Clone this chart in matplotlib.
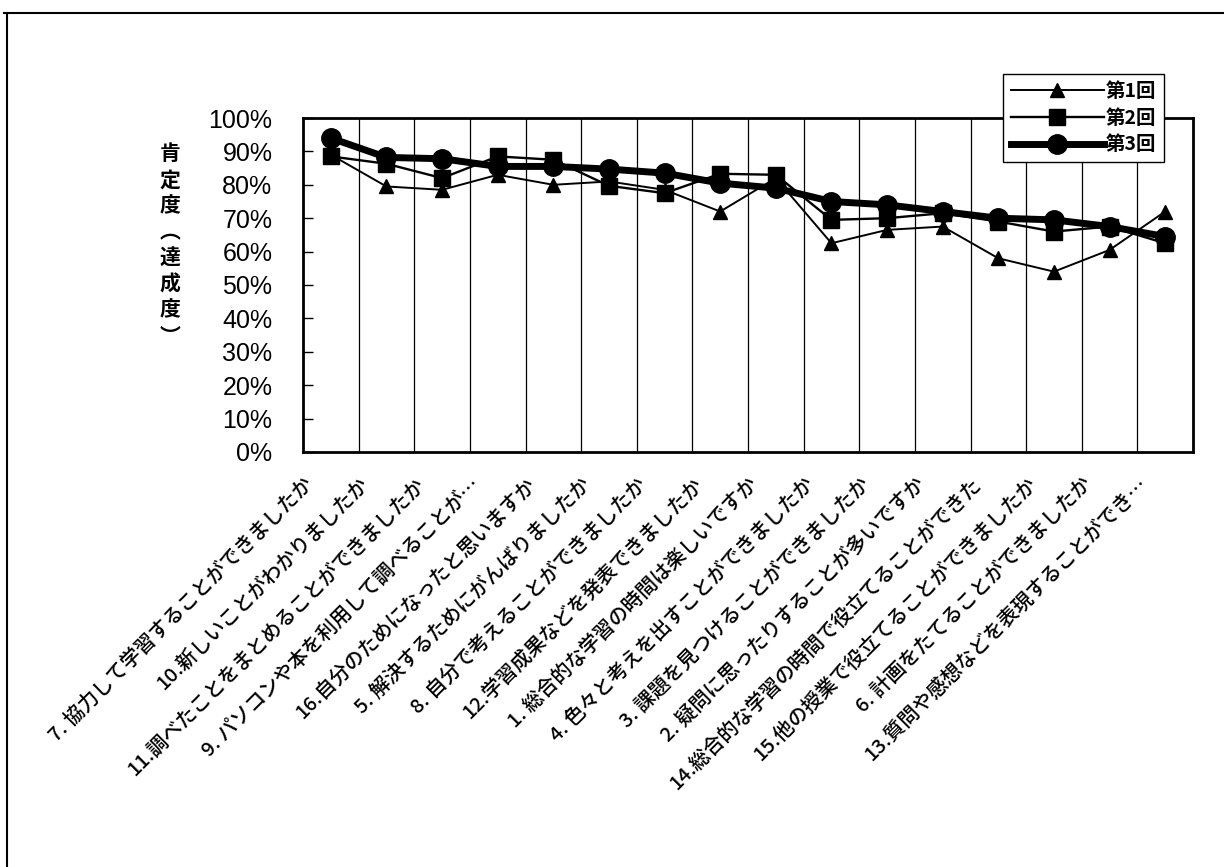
import numpy as np
import matplotlib
matplotlib.use("Agg")
import matplotlib.pyplot as plt
from matplotlib.lines import Line2D
from matplotlib.transforms import ScaledTranslation

plt.rcParams['font.family'] = ['Noto Sans CJK JP', 'DejaVu Sans']

# question labels (x axis)
labels = [
    "7. 協力して学習することができましたか",
    "10.新しいことがわかりましたか",
    "11.調べたことをまとめることができましたか",
    "9. パソコンや本を利用して調べることが…",
    "16.自分のためになったと思いますか",
    "5. 解決するためにがんばりましたか",
    "8. 自分で考えることができましたか",
    "12.学習成果などを発表できましたか",
    "1. 総合的な学習の時間は楽しいですか",
    "4. 色々と考えを出すことができましたか",
    "3. 課題を見つけることができましたか",
    "2. 疑問に思ったりすることが多いですか",
    "14.総合的な学習の時間で役立てることができた",
    "15.他の授業で役立てることができましたか",
    "6. 計画をたてることができましたか",
    "13.質問や感想などを表現することができ…",
]

# affirmative rate (%) per round
round1 = [89, 79.5, 78.5, 83, 80, 81, 78.5, 72, 82, 62.5, 66.5, 67.5, 58, 54, 60.5, 72]
round2 = [88.5, 86.3, 82, 88.5, 87.5, 79.7, 77.5, 83.3, 83, 69.5, 70, 71.5, 69, 66, 67.5, 62.5]
round3 = [94, 88.2, 87.8, 85.5, 85.5, 84.7, 83.5, 80.5, 79, 75, 74, 72, 70, 69.5, 67.5, 64.5]
series_names = ["第1回", "第2回", "第3回"]

yticks = np.arange(0, 101, 10)

W, H = 1224, 867
fig = plt.figure(figsize=(W / 100, H / 100), dpi=100)
fig.patch.set_facecolor('white')

# outer frame (only top and left edges show in the scan)
fig.add_artist(Line2D([4 / W, 1], [1 - 13 / H, 1 - 13 / H], color='black', lw=1.5))
fig.add_artist(Line2D([7 / W, 7 / W], [0, 1 - 13 / H], color='black', lw=1.5))

ax = fig.add_axes([303 / W, 1 - 452 / H, 890 / W, (452 - 118) / H])

x = np.arange(len(labels))
ax.plot(x, round1, color='black', lw=1.4, marker='^', ms=10, label=series_names[0])
ax.plot(x, round2, color='black', lw=1.7, marker='s', ms=11, label=series_names[1])
ax.plot(x, round3, color='black', lw=5, marker='o', ms=14, label=series_names[2])

ax.set_xlim(-0.5, len(labels) - 0.5)
ax.set_ylim(0, 100)

# vertical separators between categories
for b in np.arange(0.5, len(labels) - 0.5, 1):
    ax.axvline(b, color='black', lw=0.9, zorder=0)

for sp in ax.spines.values():
    sp.set_linewidth(2)

ax.set_yticks(yticks)
ax.set_yticklabels([f"{v}%" for v in yticks], family=['Liberation Sans'], fontsize=18)
ax.tick_params(axis='y', direction='in', length=7, width=1, pad=22)

ax.set_xticks(x)
ax.set_xticklabels(labels, rotation=45, ha='right', va='top', fontsize=14.5, fontweight='medium')
ax.tick_params(axis='x', length=0, pad=16)
for t in ax.get_xticklabels():
    t.set_transform(t.get_transform() + ScaledTranslation(-14 / 100, 0, fig.dpi_scale_trans))

fig.text(170 / W, 1 - 245 / H, "肯\n定\n度\n︵\n達\n成\n度\n︶", ha='center', va='center',
         fontsize=15, linespacing=1.3, fontweight='bold')

leg = ax.legend(loc='upper left', bbox_to_anchor=(1003 / W, 1 - 74 / H),
                bbox_transform=fig.transFigure, borderaxespad=0, frameon=True, fancybox=False,
                edgecolor='black', handlelength=4.8, handletextpad=0.1,
                borderpad=0.4, labelspacing=0.4, prop={'size': 14, 'weight': 'bold'})
leg.get_frame().set_linewidth(1)
leg.get_frame().set_alpha(1)

fig.savefig("out.png", dpi=100, facecolor='white')
